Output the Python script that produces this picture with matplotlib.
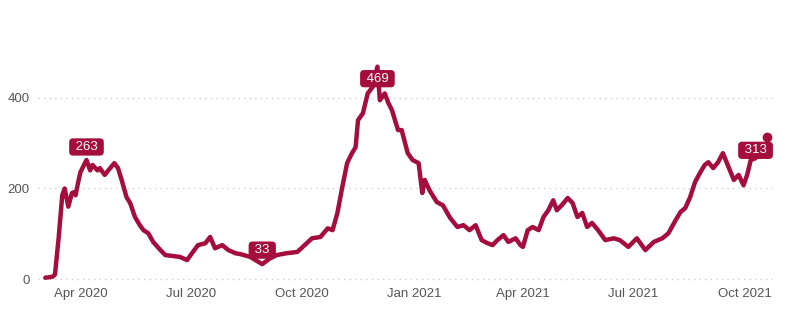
import pandas as pd
import matplotlib.pyplot as plt
import matplotlib.dates as mdates

plt.rcParams['font.family'] = ['Liberation Sans', 'DejaVu Sans']

# days after 2020-04-01 and values
days = [-29, -26, -23, -21, -18, -15, -13, -10, -7, -5, -4, -2, 0, 2, 5, 8, 10, 14, 16,
        20, 23, 28, 31, 34, 38, 41, 45, 49, 52, 56, 60, 66, 70, 76, 82, 88, 92, 97, 103,
        107, 111, 117, 122, 128, 132, 140, 150, 156, 162, 170, 179, 185, 191, 198, 204,
        208, 212, 216, 220, 224, 227, 229, 233, 237, 241, 245, 247, 251, 254, 257, 262,
        265, 270, 274, 279, 282, 284, 288, 294, 299, 305, 311, 316, 321, 326, 331, 336,
        340, 344, 349, 353, 359, 363, 365, 369, 373, 378, 382, 386, 390, 393, 397, 402,
        406, 410, 414, 418, 422, 427, 433, 440, 445, 452, 459, 466, 473, 480, 485, 491,
        495, 499, 503, 507, 511, 515, 518, 522, 526, 530, 534, 539, 543, 547, 550, 553,
        557]
values = [3, 4, 5, 10, 90, 185, 200, 160, 190, 192, 185, 212, 236, 247, 263, 240, 252, 240, 245,
          230, 240, 256, 245, 219, 181, 168, 137, 119, 108, 101, 82, 64, 53, 51, 49, 42, 57, 75, 79,
          93, 68, 75, 64, 57, 55, 49, 33, 45, 53, 57, 60, 75, 90, 93, 112,
          108, 146, 203, 256, 278, 291, 351, 366, 410, 424, 469, 395, 410, 389, 373, 329,
          329, 278, 263, 256, 190, 219, 196, 170, 163, 135, 115, 119, 108, 119, 86, 79,
          75, 86, 97, 82, 90, 75, 71, 108, 115, 108, 137, 152, 174, 152, 163, 179,
          168, 137, 146, 115, 124, 108, 86, 90, 86, 71, 90, 64, 82, 90, 101, 130,
          148, 157, 181, 214, 234, 252, 258, 245, 258, 278, 252, 219, 230, 207, 230, 263,
          267]
last_day = 566
last_value = 313

# labelled points: (day, value, offset x px, offset y px)
labels = [(5, 263, 0, 13), (245, 469, 0, -12), (150, 33, 0, 14), (566, 313, -11, -13)]

color = '#a50d3d'
base = pd.Timestamp('2020-04-01')
dates = [base + pd.Timedelta(days=d) for d in days]

fig = plt.figure(figsize=(8, 3.29), dpi=100)
ax = fig.add_axes([0.0475, 0.138, 0.919, 0.702])

ax.plot(dates, values, color=color, lw=3.2, solid_joinstyle='round', solid_capstyle='round')
ax.plot([base + pd.Timedelta(days=last_day)], [last_value], 'o', color=color, ms=6)

for d, v, ox, oy in labels:
    ax.annotate(f' {v} ', xy=(base + pd.Timedelta(days=d), v), xytext=(ox, oy),
                textcoords='offset pixels', ha='center', va='center', color='white',
                fontsize=9.5, bbox=dict(boxstyle='round,pad=0.2,rounding_size=0.3',
                                        fc=color, ec='none'))

ax.set_xlim(base + pd.Timedelta(days=-35), base + pd.Timedelta(days=571.5))
ax.set_ylim(-10, 500)
ax.set_yticks([0, 200, 400])
ax.xaxis.set_major_locator(mdates.MonthLocator(bymonth=[1, 4, 7, 10]))
ax.xaxis.set_major_formatter(mdates.DateFormatter('%b %Y'))
ax.grid(axis='y', color='#cfcfcf', linestyle=(0, (1, 3)), lw=1)
ax.set_axisbelow(True)
for s in ax.spines.values():
    s.set_visible(False)
ax.tick_params(length=0, labelsize=9.5, colors='#555555')
ax.tick_params(axis='y', pad=6)
ax.tick_params(axis='x', pad=3)

plt.savefig('out.png', dpi=100)
plt.close()
